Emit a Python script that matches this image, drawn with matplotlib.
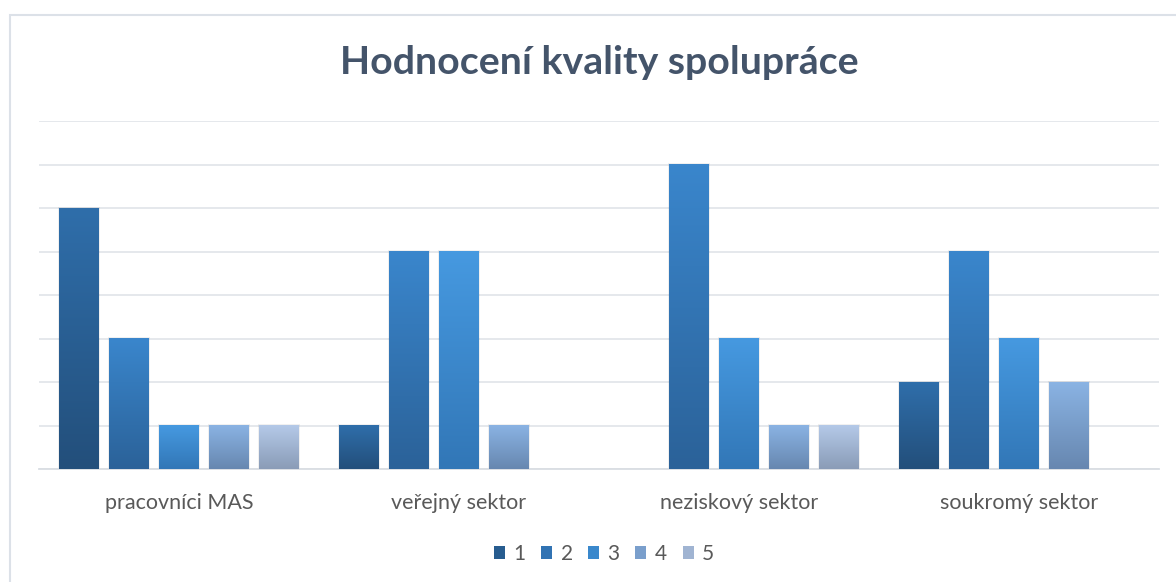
import numpy as np
import matplotlib
matplotlib.use("Agg")
import matplotlib.pyplot as plt
from matplotlib.patches import Rectangle, Patch
from matplotlib.colors import to_rgb

categories = ["pracovníci MAS", "veřejný sektor", "neziskový sektor", "soukromý sektor"]
series_names = ["1", "2", "3", "4", "5"]
values = {
    "1": [6, 1, 0, 2],
    "2": [3, 5, 7, 5],
    "3": [1, 5, 3, 3],
    "4": [1, 1, 1, 2],
    "5": [1, 0, 1, 0],
}
title = "Hodnocení kvality spolupráce"

top_cols = ["#2F6EAA", "#3A86CC", "#4699E0", "#8AB3E3", "#B4C9E8"]
bot_cols = ["#234F7B", "#2B6299", "#3277B7", "#6787B0", "#8A9CB7"]
legend_cols = ["#275C8F", "#3173B3", "#3A88CC", "#7A9FCC", "#A0B4D2"]

plt.rcParams['font.family'] = ['Lato', 'DejaVu Sans']

fig = plt.figure(figsize=(11.76, 5.82), dpi=100)
fig.patches.append(Rectangle((10/1176, -0.1), 1.2, (582-15)/582 + 0.1,
                             transform=fig.transFigure, fill=False,
                             edgecolor="#DCE1E8", linewidth=1.5))

ax = fig.add_axes([39/1176, (582-469)/582, 1120/1176, 348/582])
n = len(series_names)
step = 50/280
width = 40/280
x = np.arange(len(categories))
for i, s in enumerate(series_names):
    c_top = np.array(to_rgb(top_cols[i]))
    c_bot = np.array(to_rgb(bot_cols[i]))
    grad = np.linspace(0, 1, 64)[:, None, None]
    img = c_bot * (1 - grad) + c_top * grad
    for j, v in enumerate(values[s]):
        if v <= 0:
            continue
        left = x[j] - 0.5 + 20/280 + i*step
        # subtle shadow
        ax.add_patch(Rectangle((left - 0.004, 0), width + 0.008, v + 0.03,
                               facecolor="#000000", alpha=0.06, edgecolor="none", zorder=2))
        ax.imshow(img, extent=(left, left + width, 0, v), origin="lower",
                  aspect="auto", zorder=3, interpolation="bilinear")

ax.set_xlim(-0.5, len(categories) - 0.5)
ax.set_ylim(0, 8)
ax.set_yticks(np.arange(0, 9))
ax.yaxis.grid(True, color="#E3E6EB", linewidth=1.3)
ax.set_axisbelow(True)
ax.tick_params(axis="y", length=0, labelleft=False)
ax.set_xticks(x)
ax.set_xticklabels(categories, fontsize=15.5, color="#595959")
ax.tick_params(axis="x", length=0, pad=17)
for sp in ["top", "right", "left"]:
    ax.spines[sp].set_visible(False)
ax.spines["bottom"].set_color("#D9DDE3")
ax.spines["bottom"].set_linewidth(1.3)

fig.text(599/1176, (582-63)/582, title, ha="center", va="center",
         fontsize=28.3, fontweight="bold", color="#44546A")

handles = [Patch(facecolor=legend_cols[i], label=series_names[i]) for i in range(n)]
fig.legend(handles=handles, loc="center", bbox_to_anchor=(604/1176, (582-554)/582),
           ncol=n, frameon=False, fontsize=15, handlelength=0.53, handleheight=0.53,
           handletextpad=0.4, columnspacing=0.75, labelcolor="#595959")

fig.savefig("out.png", dpi=100, facecolor="white")
